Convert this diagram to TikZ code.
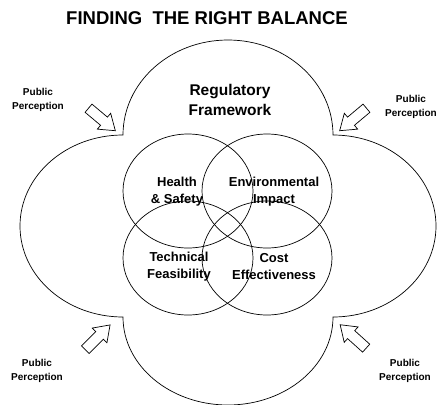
\documentclass[tikz,border=0pt]{standalone}
\usepackage{fontspec}
\setmainfont{Liberation Sans}
\usetikzlibrary{shapes.arrows}

\tikzset{
  outline/.style={line width=0.7pt},
  titletext/.style={font=\fontsize{18.5}{22}\selectfont\bfseries},
  regtext/.style={font=\fontsize{15.5}{20}\selectfont\bfseries, align=center},
  factortext/.style={font=\fontsize{13}{17}\selectfont\bfseries, align=center},
  publictext/.style={font=\fontsize{10}{14}\selectfont\bfseries, align=center},
  pparrow/.style={single arrow, draw, line width=0.7pt, fill=white,
    minimum height=35pt, inner sep=5pt,
    single arrow head extend=5pt, single arrow tip angle=70}
}

\begin{document}
\begin{tikzpicture}[x=1pt, y=-1pt]
\useasboundingbox (0,0) rectangle (440,405);

% outer lobes
\draw[outline] (123,135)
  arc[start angle=180, end angle=360, x radius=105, y radius=95]
  arc[start angle=270, end angle=450, x radius=103, y radius=91]
  arc[start angle=0, end angle=180, x radius=105, y radius=88]
  arc[start angle=90, end angle=270, x radius=103, y radius=91] -- cycle;

% the four factors
\draw[outline] (188,191) ellipse[x radius=65, y radius=57];
\draw[outline] (267,191) ellipse[x radius=65, y radius=57];
\draw[outline] (188,258) ellipse[x radius=65, y radius=57];
\draw[outline] (267,258) ellipse[x radius=65, y radius=57];

\node [titletext] (title) at (207,18) {FINDING\ \ THE RIGHT BALANCE};
\node [regtext] (reg) at (230,100) {Regulatory\\Framework};

\node [factortext] (health) at (177,192) {Health\\\& Safety};
\node [factortext] (env) at (274,192) {Environmental\\Impact};
\node [factortext] (tech) at (179,267) {Technical\\Feasibility};
\node [factortext] (cost) at (274,267) {Cost\\Effectiveness};

% public perception
\node [publictext] (pubtl) at (38,100) {Public\\Perception};
\node [publictext] (pubtr) at (411,107) {Public\\Perception};
\node [publictext] (pubbl) at (37,371) {Public\\Perception};
\node [publictext] (pubbr) at (405,371) {Public\\Perception};

\node [pparrow, rotate=-40] (arrtl) at (99,117) {};
\node [pparrow, rotate=-140] (arrtr) at (356,117) {};
\node [pparrow, rotate=45] (arrbl) at (95,340) {};
\node [pparrow, rotate=138] (arrbr) at (356,339) {};
\end{tikzpicture}
\end{document}
